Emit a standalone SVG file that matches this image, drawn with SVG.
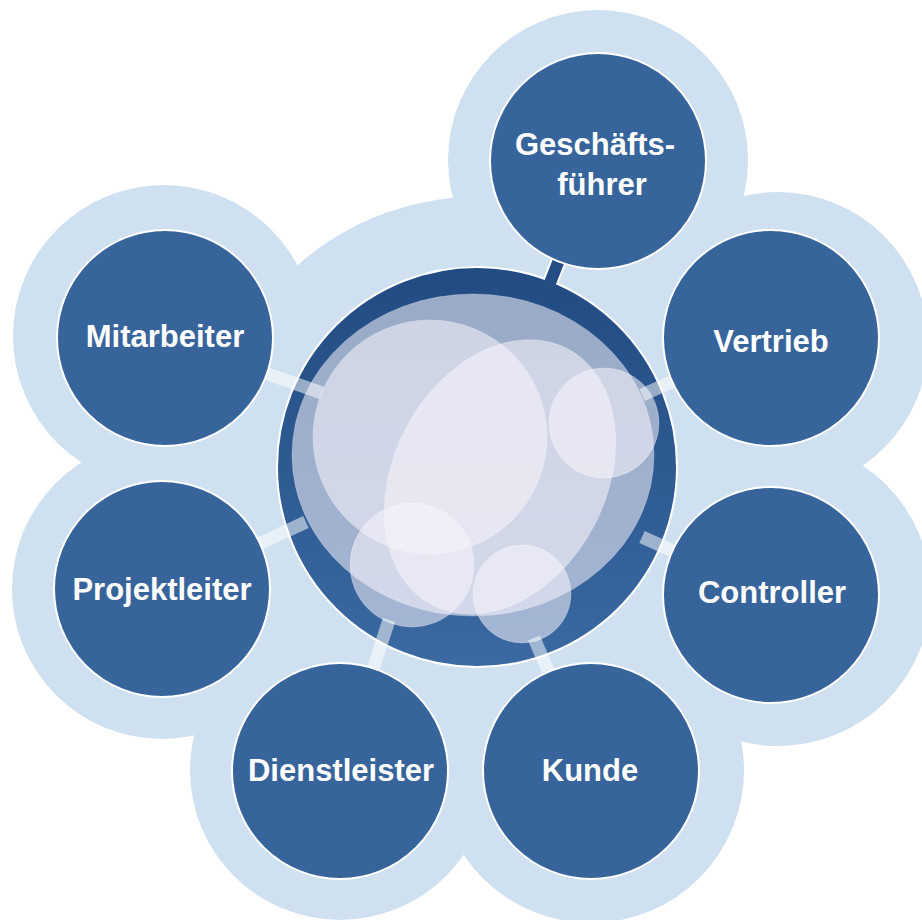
<svg xmlns="http://www.w3.org/2000/svg" width="922" height="920" viewBox="0 0 922 920">
  <defs>
    <linearGradient id="ringGrad" x1="0" y1="0" x2="0" y2="1">
      <stop offset="0" stop-color="#214b82"/>
      <stop offset="1" stop-color="#3b69a2"/>
    </linearGradient>
    <style>
      .bg { fill: #cfe0f0; }
      .node { fill: #37649a; stroke: #ffffff; stroke-width: 2; }
      .label { font-family: "Liberation Sans", Arial, sans-serif; font-weight: bold; font-size: 31px; fill: #ffffff; text-anchor: middle; }
      .glass { fill: #f8f4fc; fill-opacity: 0.56; stroke: #ffffff; stroke-opacity: 0.25; stroke-width: 1; }
      .band { stroke: #ffffff; stroke-opacity: 0.52; stroke-width: 13; stroke-linecap: butt; fill: none; }
    </style>
  </defs>

  <g id="background">
    <circle class="bg" cx="477" cy="467" r="270"/>
    <circle class="bg" cx="598" cy="160" r="150"/>
    <circle class="bg" cx="778" cy="342" r="150"/>
    <circle class="bg" cx="778" cy="593" r="153"/>
    <circle class="bg" cx="591" cy="770" r="153"/>
    <circle class="bg" cx="340" cy="770" r="150"/>
    <circle class="bg" cx="162" cy="589" r="150"/>
    <circle class="bg" cx="164" cy="336" r="151"/>
  </g>

  <g id="center">
    <line x1="598" y1="161" x2="551" y2="280" stroke="#ffffff" stroke-width="16"/>
    <circle cx="477" cy="467" r="200" fill="url(#ringGrad)" stroke="#ffffff" stroke-width="2"/>
    <line x1="598" y1="161" x2="548" y2="288" stroke="#244e85" stroke-width="12"/>
    <ellipse class="glass" cx="473" cy="455" rx="181" ry="161"/>
    <circle class="glass" cx="430" cy="437" r="117"/>
    <ellipse class="glass" cx="0" cy="0" rx="106" ry="145" transform="translate(500 477) rotate(28)"/>
    <circle class="glass" cx="604" cy="423" r="55"/>
    <circle class="glass" cx="412" cy="565" r="62"/>
    <circle class="glass" cx="522" cy="594" r="49"/>
  </g>

  <g id="connectors">
    <line class="band" x1="165" y1="338" x2="322" y2="393"/>
    <line class="band" x1="771" y1="338" x2="642" y2="395"/>
    <line class="band" x1="771" y1="595" x2="642" y2="537"/>
    <line class="band" x1="591" y1="771" x2="534" y2="638"/>
    <line class="band" x1="340" y1="771" x2="389" y2="620"/>
    <line class="band" x1="162" y1="589" x2="306" y2="522"/>
  </g>

  <g id="node-geschaeftsfuehrer">
    <circle class="node" cx="598" cy="161" r="108"/>
    <text class="label" x="595" y="155">Geschäfts-</text>
    <text class="label" x="602" y="195">führer</text>
  </g>
  <g id="node-vertrieb">
    <circle class="node" cx="771" cy="338" r="108"/>
    <text class="label" x="771" y="352">Vertrieb</text>
  </g>
  <g id="node-controller">
    <circle class="node" cx="771" cy="595" r="108"/>
    <text class="label" x="772" y="603">Controller</text>
  </g>
  <g id="node-kunde">
    <circle class="node" cx="591" cy="771" r="108"/>
    <text class="label" x="590" y="781">Kunde</text>
  </g>
  <g id="node-dienstleister">
    <circle class="node" cx="340" cy="771" r="108"/>
    <text class="label" x="341" y="781">Dienstleister</text>
  </g>
  <g id="node-projektleiter">
    <circle class="node" cx="162" cy="589" r="108"/>
    <text class="label" x="162" y="600">Projektleiter</text>
  </g>
  <g id="node-mitarbeiter">
    <circle class="node" cx="165" cy="338" r="108"/>
    <text class="label" x="165" y="347">Mitarbeiter</text>
  </g>
</svg>
